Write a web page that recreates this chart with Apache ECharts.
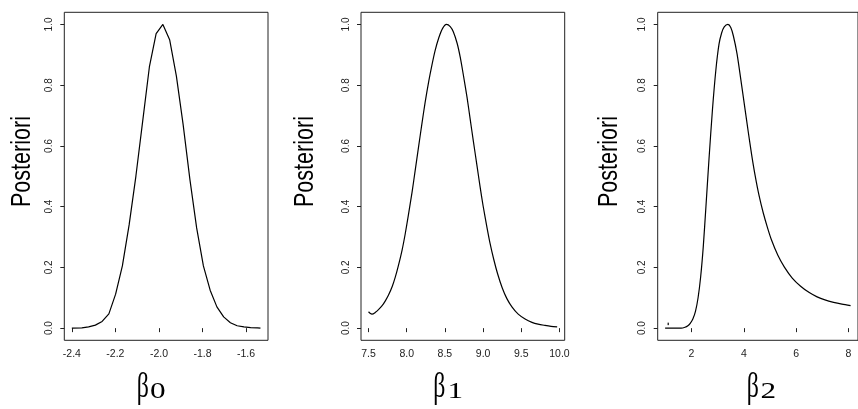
<!DOCTYPE html>
<html>
<head>
<meta charset="utf-8">
<script src="https://cdn.jsdelivr.net/npm/echarts@6/dist/echarts.min.js"></script>
<style>
  html, body { margin: 0; padding: 0; background: #fff; }
  #chart { width: 858px; height: 409px; }
</style>
</head>
<body>
<div id="chart"></div>
<script>
// ---- Data ----
const b0X = [-2.400, -2.354, -2.323, -2.292, -2.261, -2.230, -2.199, -2.168, -2.137, -2.106, -2.075, -2.044, -2.013, -1.982, -1.951, -1.920, -1.889, -1.858, -1.827, -1.796, -1.765, -1.734, -1.703, -1.672, -1.641, -1.610, -1.579, -1.548, -1.534];
const b0Y = [0.000, 0.001, 0.004, 0.010, 0.022, 0.047, 0.112, 0.205, 0.340, 0.500, 0.680, 0.860, 0.970, 1.000, 0.950, 0.830, 0.670, 0.490, 0.330, 0.205, 0.125, 0.070, 0.037, 0.018, 0.008, 0.004, 0.002, 0.001, 0.000];

const b1X = [7.50, 7.52, 7.545, 7.59, 7.63, 7.675, 7.72, 7.76, 7.81, 7.85, 7.89, 7.94, 7.98, 8.02, 8.07, 8.11, 8.155, 8.20, 8.24, 8.29, 8.33, 8.37, 8.42, 8.47, 8.52, 8.57, 8.61, 8.66, 8.70, 8.74, 8.79, 8.83, 8.87, 8.92, 8.96, 9.00, 9.05, 9.09, 9.14, 9.19, 9.25, 9.31, 9.38, 9.46, 9.55, 9.64, 9.72, 9.81, 9.89, 9.97];
const b1Y = [0.054, 0.049, 0.046, 0.052, 0.061, 0.073, 0.090, 0.108, 0.137, 0.168, 0.205, 0.258, 0.310, 0.370, 0.448, 0.518, 0.597, 0.675, 0.742, 0.815, 0.866, 0.912, 0.956, 0.987, 1.000, 0.993, 0.976, 0.938, 0.893, 0.836, 0.760, 0.690, 0.620, 0.535, 0.467, 0.403, 0.333, 0.281, 0.226, 0.179, 0.133, 0.098, 0.069, 0.046, 0.030, 0.019, 0.013, 0.009, 0.006, 0.004];

const b2X = [0.99, 1.30, 1.60, 1.75, 1.86, 1.95, 2.05, 2.15, 2.25, 2.35, 2.45, 2.55, 2.67, 2.80, 2.93, 3.05, 3.15, 3.25, 3.39, 3.50, 3.60, 3.74, 3.92, 4.05, 4.17, 4.30, 4.43, 4.58, 4.74, 4.90, 5.05, 5.30, 5.55, 5.85, 6.17, 6.50, 6.80, 7.10, 7.43, 7.75, 8.08];
const b2Y = [0.000, 0.000, 0.000, 0.003, 0.008, 0.016, 0.030, 0.055, 0.100, 0.170, 0.270, 0.400, 0.560, 0.720, 0.850, 0.935, 0.972, 0.992, 1.000, 0.990, 0.962, 0.903, 0.797, 0.718, 0.645, 0.570, 0.503, 0.437, 0.380, 0.332, 0.292, 0.240, 0.201, 0.165, 0.138, 0.117, 0.103, 0.093, 0.085, 0.079, 0.074];

const b2DotX = [1.11];
const b2DotY = [0.014];

// Tick labels
const yTicks = [0.0, 0.2, 0.4, 0.6, 0.8, 1.0];
const b0Ticks = [-2.4, -2.2, -2.0, -1.8, -1.6];
const b1Ticks = [7.5, 8.0, 8.5, 9.0, 9.5, 10.0];
const b2Ticks = [2, 4, 6, 8];

const yLabel = 'Posteriori';
const xSubs = ['0', '1', '2'];

// ---- Helpers ----
const zip = (xs, ys) => xs.map((x, i) => [x, ys[i]]);
const padRange = (xs) => {
  const lo = Math.min(...xs), hi = Math.max(...xs), d = (hi - lo) * 0.04;
  return [lo - d, hi + d];
};

const FONT = 'Liberation Sans, Arial, Helvetica, sans-serif';
const SERIF = 'Liberation Serif, DejaVu Serif, serif';

const gridLefts = [64.3, 361, 657.7];
const gridW = 203.7;
const panels = [
  { xs: b0X, ys: b0Y, ticks: b0Ticks, fmt: v => v.toFixed(1), smooth: false },
  { xs: b1X, ys: b1Y, ticks: b1Ticks, fmt: v => v.toFixed(1), smooth: 0.25 },
  { xs: b2X, ys: b2Y, ticks: b2Ticks, fmt: v => String(Math.round(v)), smooth: 0.25 }
];

const grid = [], xAxis = [], yAxis = [], series = [];
panels.forEach((p, i) => {
  const [mn, mx] = padRange(p.xs);
  grid.push({ left: gridLefts[i], top: 12.3, width: i === 2 ? 204.2 : gridW, height: 328,
              show: true, borderColor: '#222', borderWidth: 1, backgroundColor: 'transparent' });
  xAxis.push({
    gridIndex: i, type: 'value', min: mn, max: mx,
    axisLine: { show: false }, splitLine: { show: false },
    axisTick: { show: true, inside: false, length: 4, customValues: p.ticks, lineStyle: { color: '#222' } },
    axisLabel: { customValues: p.ticks, formatter: p.fmt, margin: 8, fontSize: 10.5,
                 color: '#222', fontFamily: FONT }
  });
  yAxis.push({
    gridIndex: i, type: 'value', min: -0.04, max: 1.04,
    axisLine: { show: false }, splitLine: { show: false },
    axisTick: { show: true, inside: false, length: 4, customValues: yTicks, lineStyle: { color: '#222' } },
    axisLabel: { customValues: yTicks, formatter: v => v.toFixed(1), rotate: 90, margin: 10,
                 fontSize: 10, color: '#222', fontFamily: FONT }
  });
  series.push({
    type: 'line', xAxisIndex: i, yAxisIndex: i, data: zip(p.xs, p.ys),
    showSymbol: false, smooth: p.smooth,
    lineStyle: { color: '#000', width: 1.2 }, silent: true, animation: false
  });
});
series.push({
  type: 'scatter', xAxisIndex: 2, yAxisIndex: 2, data: zip(b2DotX, b2DotY),
  symbol: 'rect', symbolSize: [1.5, 2.5], itemStyle: { color: '#000' }, silent: true, animation: false
});

// Axis titles (text)
const yTitleX = [22.5, 305.3, 609.7];
const betaLeft = [136.7, 433.3, 746.7];
const subLeft = [150, 447.5, 760.5];
const graphic = [];
for (let i = 0; i < 3; i++) {
  graphic.push({
    type: 'text', x: yTitleX[i], y: 161.5, rotation: Math.PI / 2, scaleX: 0.77,
    style: { text: yLabel, fontSize: 28, fontFamily: FONT, fill: '#000', align: 'center', verticalAlign: 'middle' }
  });
  graphic.push({
    type: 'text', x: betaLeft[i], y: 388, scaleX: 0.68,
    style: { text: 'β', fontSize: 35, fontFamily: SERIF, fill: '#000', align: 'left', verticalAlign: 'middle' }
  });
  graphic.push({
    type: 'text', x: subLeft[i], y: 392, scaleX: 1.3,
    style: { text: xSubs[i], fontSize: 24, fontFamily: SERIF, fill: '#000', align: 'left', verticalAlign: 'middle' }
  });
}

const chart = echarts.init(document.getElementById('chart'), null, { renderer: 'canvas' });
chart.setOption({
  backgroundColor: '#fff',
  animation: false,
  grid, xAxis, yAxis, series, graphic
});
</script>
</body>
</html>
